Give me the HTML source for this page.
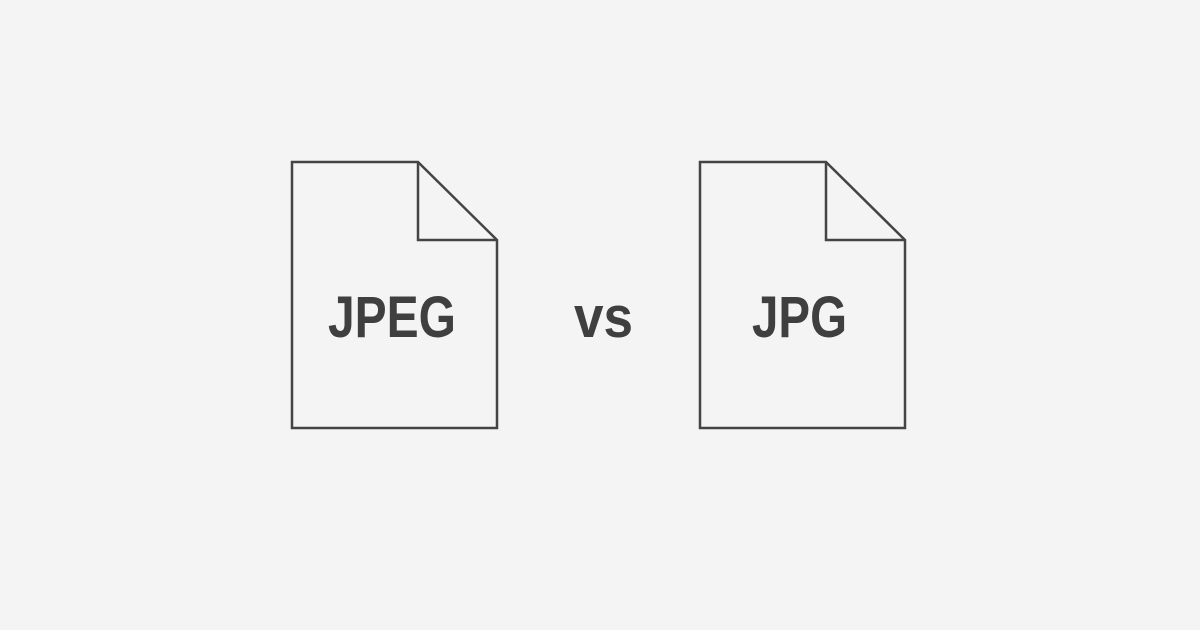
<!DOCTYPE html>
<html><head><meta charset="utf-8"><style>
html,body{margin:0;padding:0;background:#f4f4f4;}
svg{display:block}
text{font-family:"Liberation Sans",sans-serif;font-weight:bold;fill:#3f3f3f;}
</style></head><body>
<svg width="1200" height="630" viewBox="0 0 1200 630">
<rect width="1200" height="630" fill="#f4f4f4"/>
<g fill="none" stroke="#444" stroke-width="2.5" stroke-linejoin="miter">
<path d="M292 162 H418 L497 240 V428 H292 Z"/>
<path d="M418 162 V240 H497"/>
</g>
<g fill="none" stroke="#444" stroke-width="2.5" stroke-linejoin="miter">
<path d="M700 162 H826 L905 240 V428 H700 Z"/>
<path d="M826 162 V240 H905"/>
</g>
<text x="328" y="337" font-size="58" textLength="128" lengthAdjust="spacingAndGlyphs">JPEG</text>
<text x="574" y="337" font-size="58" textLength="59" lengthAdjust="spacingAndGlyphs">vs</text>
<text x="752" y="337" font-size="58" textLength="95" lengthAdjust="spacingAndGlyphs">JPG</text>
</svg>
</body></html>
